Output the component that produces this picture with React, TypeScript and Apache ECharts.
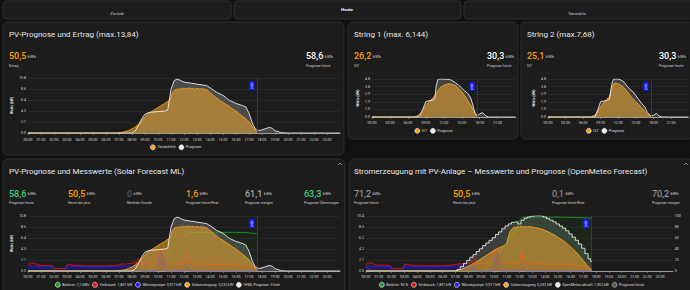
import React, { useEffect, useRef } from 'react';
import * as echarts from 'echarts';

const FONT = 'Roboto, "Noto Sans", sans-serif';
const JETZT = 17.65;

// y-axis tick labels
const ticksErtrag = ['0.0', '2.1', '4.3', '6.4', '8.6', '10.8'];
const ticksString = ['0.0', '1.0', '1.9', '2.9', '3.8', '4.8'];
const ticksMeteo = ['0.0', '2.1', '4.2', '6.2', '8.3', '10.4'];
const ticksPercent = ['0', '20', '40', '60', '80', '100'];

// [hour, kW]
const prognoseSfml: [number, number][] = [
  [0, 0], [8.0, 0], [8.25, 0.4], [8.5, 1.5], [8.75, 2.8], [9.0, 3.7], [9.25, 4.0], [9.5, 4.1], [10.0, 4.2],
  [10.5, 4.3], [10.75, 4.5], [11.0, 8.6], [11.25, 10.3], [11.5, 10.6], [11.75, 10.3], [12.0, 10.0], [12.5, 9.8],
  [13.0, 9.6], [13.5, 9.4], [13.75, 9.3], [14.0, 8.9], [14.5, 8.0], [15.0, 7.4], [15.5, 6.4], [16.0, 5.8],
  [16.5, 5.4], [16.75, 5.1], [17.0, 3.9], [17.25, 2.0], [17.5, 0.7], [17.75, 0.5], [18.0, 0.6], [18.25, 0.85],
  [18.6, 1.1], [18.8, 0.9], [19.0, 0.45], [19.5, 0.05], [20, 0], [24, 0],
];

const ertragIst: [number, number][] = [
  [0, 0], [6.75, 0], [7.0, 0.05], [7.25, 0.15], [7.5, 0.3], [7.75, 0.5], [8.0, 0.8], [8.25, 1.2], [8.5, 1.7],
  [8.75, 2.4], [9.0, 3.2], [9.25, 3.8], [9.5, 4.2], [9.75, 4.6], [10.0, 5.0], [10.25, 5.4], [10.5, 5.8],
  [10.75, 6.2], [10.9, 6.5], [11.0, 7.0], [11.1, 7.9], [11.25, 8.4], [11.4, 8.6], [11.5, 8.5], [11.6, 8.7],
  [11.75, 8.6], [11.9, 8.8], [12.0, 8.6], [12.1, 8.8], [12.25, 8.7], [12.4, 8.9], [12.5, 8.6], [12.6, 8.8],
  [12.75, 8.7], [12.9, 8.6], [13.0, 8.8], [13.1, 8.6], [13.25, 8.7], [13.4, 8.6], [13.5, 8.7], [13.6, 8.5],
  [13.75, 8.5], [13.9, 8.2], [14.0, 7.9], [14.25, 7.4], [14.5, 6.9], [14.75, 6.4], [15.0, 6.0], [15.25, 5.6],
  [15.5, 5.2], [15.75, 4.7], [16.0, 4.3], [16.25, 3.8], [16.5, 3.3], [16.75, 2.8], [17.0, 2.2], [17.25, 1.3],
  [17.5, 0.5], [17.65, 0.1],
];

const string1Prognose: [number, number][] = [
  [0, 0], [7.75, 0], [8.0, 0.2], [8.5, 1.0], [9.0, 1.95], [9.5, 2.05], [10.0, 2.1], [10.5, 2.3], [10.75, 4.0],
  [11.0, 4.7], [11.25, 4.8], [13.0, 4.75], [13.5, 4.55], [14.0, 4.3], [14.5, 4.0], [15.0, 3.65], [15.5, 3.3],
  [16.0, 3.0], [16.5, 2.4], [16.75, 1.8], [17.0, 1.1], [17.25, 0.45], [17.5, 0.25], [17.75, 0.25], [18.0, 0.4],
  [18.5, 0.55], [18.75, 0.35], [19.0, 0.15], [19.5, 0], [24, 0],
];

const string1Ist: [number, number][] = [
  [0, 0], [7.0, 0], [7.5, 0.1], [8.0, 0.35], [8.5, 0.8], [9.0, 1.4], [9.5, 1.9], [10.0, 2.3], [10.5, 2.7],
  [10.75, 2.9], [11.0, 3.3], [11.25, 3.6], [11.5, 3.8], [12.0, 4.0], [12.5, 4.15], [13.0, 4.2], [13.5, 4.1],
  [14.0, 3.95], [14.5, 3.6], [15.0, 3.2], [15.5, 2.7], [16.0, 2.1], [16.5, 1.5], [17.0, 0.8], [17.25, 0.4],
  [17.5, 0.15], [17.65, 0.05],
];

const string2Prognose: [number, number][] = [
  [0, 0], [8.0, 0], [8.5, 0.9], [9.0, 1.95], [9.5, 2.0], [10.0, 2.1], [10.5, 2.25], [10.75, 3.5], [11.0, 4.45],
  [11.25, 4.8], [12.0, 4.8], [12.5, 4.65], [13.0, 4.4], [13.5, 3.9], [14.0, 3.5], [14.5, 3.2], [15.0, 2.7],
  [15.5, 2.2], [16.0, 1.7], [16.5, 1.3], [17.0, 0.55], [17.5, 0.17], [18.0, 0.2], [18.5, 0.45], [18.75, 0.3],
  [19.0, 0.1], [19.5, 0], [24, 0],
];

const string2Ist: [number, number][] = [
  [0, 0], [7.25, 0], [7.5, 0.05], [8.0, 0.25], [8.5, 0.65], [9.0, 1.3], [9.5, 1.8], [10.0, 2.2], [10.5, 2.6],
  [10.75, 3.2], [11.0, 3.8], [11.25, 4.2], [11.5, 4.3], [12.0, 4.2], [12.5, 4.0], [13.0, 3.7], [13.5, 3.25],
  [14.0, 2.75], [14.5, 2.3], [15.0, 1.9], [15.5, 1.55], [16.0, 1.15], [16.5, 0.75], [17.0, 0.35], [17.5, 0.08],
  [17.65, 0.02],
];

const verbrauch: [number, number][] = [
  [0, 1.0], [0.1, 1.4], [0.3, 1.6], [0.5, 1.5], [0.7, 1.2], [1.0, 1.1], [1.5, 1.1], [1.9, 1.0], [2.0, 0.5],
  [2.5, 0.5], [2.9, 0.5], [3.0, 1.2], [3.2, 1.3], [3.5, 1.1], [4.0, 1.1], [4.5, 1.0], [5.0, 1.0], [5.5, 1.0],
  [6.0, 1.0], [6.5, 1.1], [7.0, 1.2], [7.3, 1.4], [7.5, 1.3], [7.8, 1.5], [8.0, 1.5], [8.2, 1.9], [8.3, 1.4],
  [8.5, 2.5], [8.6, 1.6], [8.75, 1.3], [9.0, 1.4], [9.25, 1.5], [9.5, 1.4], [9.75, 1.9], [10.0, 2.6], [10.1, 4.0],
  [10.25, 4.5], [10.4, 3.6], [10.5, 2.2], [10.75, 1.7], [11.0, 1.4], [11.25, 1.5], [11.5, 1.3], [11.75, 1.4],
  [12.0, 1.3], [12.1, 2.6], [12.2, 3.7], [12.3, 2.2], [12.4, 2.7], [12.5, 1.9], [12.75, 1.6], [13.0, 1.4],
  [13.25, 1.3], [13.5, 1.5], [14.0, 1.3], [14.5, 1.2], [15.0, 1.4], [15.5, 1.2], [16.0, 1.2], [16.5, 1.1],
  [17.0, 1.0], [17.3, 0.9], [17.5, 0.7], [17.65, 0.9],
];

const waermepumpe: [number, number][] = [
  [0, 0.5], [0.1, 0.9], [0.5, 0.9], [1.0, 0.8], [1.9, 0.8], [2.0, 0.1], [2.9, 0.1], [3.0, 0.9], [3.5, 0.9],
  [4.0, 0.8], [5.0, 0.8], [6.0, 0.8], [7.0, 0.9], [7.5, 1.0], [8.0, 0.9], [8.4, 0.9], [8.5, 0.1], [9.0, 0.0],
  [9.9, 0.0], [10.0, 1.5], [10.1, 3.2], [10.25, 3.5], [10.45, 3.0], [10.5, 0.3], [10.6, 0.0], [12.0, 0.0],
  [12.1, 0.6], [12.3, 0.8], [12.45, 0.6], [12.5, 0.0], [17.5, 0.0], [17.6, 0.5], [17.65, 0.9],
];

const batterieKwh: [number, number][] = [
  [0, 0], [9.25, 0], [10.0, 1.8], [11.0, 4.2], [12.0, 6.8], [12.25, 7.6], [15.0, 7.6], [16.0, 7.6],
  [17.0, 7.5], [17.65, 7.3],
];

const batterieProzent: [number, number][] = [
  [0, 8], [0.25, 3], [0.5, 0], [9.25, 0], [10.0, 22], [11.0, 52], [11.75, 76], [12.0, 92], [12.25, 98],
  [13.0, 98], [15.0, 98], [17.0, 97], [17.65, 96],
];

const solarMeteo: [number, number][] = [
  [0, 0], [6.9, 0], [7.25, 0.15], [7.5, 0.35], [7.75, 0.6], [8.0, 0.9], [8.25, 1.2], [8.5, 1.55], [8.75, 1.9],
  [9.0, 2.3], [9.25, 2.7], [9.5, 3.1], [9.75, 3.5], [10.0, 3.9], [10.25, 4.2], [10.5, 4.5], [10.75, 4.75],
  [11.0, 5.0], [11.1, 6.2], [11.25, 7.4], [11.4, 7.9], [11.5, 8.1], [11.6, 8.3], [11.75, 8.2], [11.9, 8.4],
  [12.0, 8.3], [12.15, 8.5], [12.3, 8.3], [12.5, 8.4], [12.65, 8.3], [12.8, 8.4], [13.0, 8.3], [13.25, 8.2],
  [13.5, 8.1], [13.75, 7.9], [14.0, 7.7], [14.25, 7.4], [14.5, 7.1], [14.75, 6.8], [15.0, 6.4], [15.25, 6.0],
  [15.5, 5.6], [15.75, 5.1], [16.0, 4.6], [16.25, 4.0], [16.5, 3.4], [16.75, 2.7], [17.0, 2.0], [17.25, 1.2],
  [17.5, 0.5], [17.65, 0.25],
];

const openMeteo: [number, number][] = [
  [0, 0], [7.0, 0], [7.25, 0.3], [7.5, 0.8], [7.75, 1.4], [8.0, 2.0], [8.25, 2.6], [8.5, 3.1], [8.75, 3.7],
  [9.0, 4.2], [9.25, 4.8], [9.5, 5.3], [9.75, 5.8], [10.0, 6.3], [10.25, 6.9], [10.5, 7.4], [10.75, 8.0],
  [11.0, 8.5], [11.25, 8.9], [11.5, 9.2], [11.75, 9.3], [12.0, 8.9], [12.25, 9.6], [12.5, 10.0], [12.75, 10.2],
  [13.0, 10.35], [13.25, 10.45], [13.5, 10.45], [13.75, 10.4], [14.0, 10.2], [14.25, 9.9], [14.5, 9.6],
  [14.75, 9.3], [15.0, 8.9], [15.25, 8.5], [15.5, 8.1], [15.75, 7.6], [16.0, 7.0], [16.25, 6.4], [16.5, 5.8],
  [16.75, 5.1], [17.0, 4.3], [17.25, 3.3], [17.5, 2.3], [17.65, 1.8],
];

const ORANGE = '#f5a21c';
const ORANGE_FILL = 'rgba(232,165,45,0.82)';
const WHITE = '#ececec';

const hourFmt = (v: number) => (v >= 24 ? '' : `${v < 10 ? '0' : ''}${v}:00`);

function xAx(gridIndex: number, interval: number, margin: number) {
  return {
    type: 'value', gridIndex, min: 0, max: 24, interval,
    axisLine: { show: true, lineStyle: { color: '#9a9a9a', width: 1 } },
    axisTick: { show: true, length: 2, lineStyle: { color: '#9a9a9a', width: 0.6 } },
    splitLine: { show: false },
    axisLabel: { fontSize: 3.6, color: '#d0d0d0', fontFamily: FONT, margin, showMaxLabel: false, formatter: hourFmt },
  };
}

function yAx(gridIndex: number, max: number, ticks: string[], name: string, nameGap: number, position = 'left') {
  const step = max / (ticks.length - 1);
  return {
    type: 'value', gridIndex, min: 0, max, interval: step, position,
    name, nameLocation: 'middle', nameGap, nameRotate: 90,
    nameTextStyle: { fontSize: 3.4, color: '#f0f0f0', fontWeight: 'bold', fontFamily: FONT },
    axisLine: { show: false }, axisTick: { show: false },
    splitLine: { show: position === 'left', lineStyle: { color: '#2e2e2e', width: 0.6 } },
    axisLabel: {
      fontSize: 3.6, color: '#d0d0d0', fontFamily: FONT, margin: 2,
      formatter: (v: number) => ticks[Math.round(v / step)] ?? '',
    },
  };
}

const jetztMark = {
  symbol: ['none', 'none'], silent: true,
  lineStyle: { color: '#2432c8', width: 0.8, type: 'solid' },
  label: {
    show: true, formatter: 'jetzt', position: 'insideEndTop', distance: 3,
    color: '#fff', fontSize: 3.2, fontFamily: FONT, backgroundColor: '#1414ff', padding: [1.2, 1.5],
  },
  data: [{ xAxis: JETZT }],
};

function area(data: [number, number][], xi: number, yi: number, fill: string, z: number) {
  return {
    type: 'line', data, xAxisIndex: xi, yAxisIndex: yi, symbol: 'none', silent: true, z,
    lineStyle: { width: 0 }, areaStyle: { color: fill, opacity: 1 },
  };
}

function line(name: string, data: [number, number][], xi: number, yi: number, color: string, z: number, extra: any = {}) {
  return {
    name, type: 'line', data, xAxisIndex: xi, yAxisIndex: yi, symbol: 'none', z,
    itemStyle: { color }, lineStyle: { color, width: 0.9 }, ...extra,
  };
}

function legend(left: number, top: number, data: any[]) {
  return {
    left, top, data, icon: 'circle', itemWidth: 5, itemHeight: 5, itemGap: 3, padding: 0, selectedMode: false,
    itemStyle: { borderColor: '#fff', borderWidth: 0.6 },
    textStyle: { color: '#dcdcdc', fontSize: 3.6, fontFamily: FONT, padding: [0, 0, 0, -3] },
  };
}

function card(x: number, y: number, w: number, h: number) {
  return { type: 'rect', z: -10, shape: { x, y, width: w, height: h, r: 5 }, style: { fill: '#1c1c1c', stroke: '#2c2c2c', lineWidth: 1 } };
}

function txt(x: number, y: number, text: string, size: number, fill: string, weight = 'normal', align = 'left') {
  return {
    type: 'text', z: 50, x, y,
    style: { text, fill, fontSize: size, fontWeight: weight, fontFamily: FONT, align, verticalAlign: 'middle' },
  };
}

function stat(x: number, y: number, value: string, color: string, label: string, weight = '500') {
  return [
    {
      type: 'text', z: 50, x, y,
      style: {
        text: `{v|${value}}{u|kWh}`, verticalAlign: 'middle',
        rich: {
          v: { fontSize: 9, fontWeight: weight, fill: color, fontFamily: FONT },
          u: { fontSize: 4.2, fill: '#cfcfcf', fontFamily: FONT, padding: [0, 0, 0, 1.5] },
        },
      },
    },
    txt(x, y + 9.5, label, 3.5, '#cfcfcf'),
  ];
}

function chevron(x: number, y: number) {
  return { type: 'polyline', z: 50, shape: { points: [[x - 2, y + 1.5], [x, y - 0.5], [x + 2, y + 1.5]] }, style: { stroke: '#9a9a9a', lineWidth: 0.8, fill: 'none' } };
}

function buildOption() {
  const graphic: any[] = [
    { type: 'rect', z: -20, shape: { x: 0, y: 0, width: 690, height: 290 }, style: { fill: '#111111' } },
    { type: 'rect', z: -10, shape: { x: 3, y: 1, width: 228, height: 18, r: 4 }, style: { fill: '#1c1c1c', stroke: '#2e2e2e' } },
    { type: 'rect', z: -10, shape: { x: 234, y: 1, width: 227, height: 18, r: 4 }, style: { fill: '#1c1c1c', stroke: '#2e2e2e' } },
    { type: 'rect', z: -10, shape: { x: 464, y: 1, width: 230, height: 18, r: 4 }, style: { fill: '#1c1c1c', stroke: '#2e2e2e' } },
    txt(117, 13, 'Zurück', 4.4, '#d6d6d6', 'normal', 'center'),
    txt(347, 9.3, 'Heute', 4.4, '#ffffff', 'bold', 'center'),
    txt(577, 13, 'Vorwärts', 4.4, '#d6d6d6', 'normal', 'center'),
    card(3, 22, 341, 133),
    card(348, 22, 170, 117),
    card(521, 22, 173, 117),
    card(3, 159, 342, 140),
    card(349, 159, 345, 140),
    chevron(340, 163.5),
    chevron(686, 163.5),
    txt(9, 34, 'PV-Prognose und Ertrag (max.13,84)', 8, '#e6e6e6'),
    ...stat(9, 56, '50,5', '#ffa000', 'Ertrag'),
    ...stat(306, 56, '58,6', '#ffffff', 'Prognose heute'),
    txt(354, 34, 'String 1 (max. 6,144)', 8, '#e6e6e6'),
    ...stat(354, 56, '26,2', '#ffa000', 'IST'),
    ...stat(487, 56, '30,3', '#ffffff', 'Prognose heute'),
    txt(527, 34, 'String 2 (max.7,68)', 8, '#e6e6e6'),
    ...stat(527, 56, '25,1', '#ffa000', 'IST'),
    ...stat(659, 56, '30,3', '#ffffff', 'Prognose heute'),
    txt(9, 171.5, 'PV-Prognose und Messwerte (Solar Forecast ML)', 8, '#e6e6e6'),
    ...stat(9, 193.7, '58,6', '#3ccf7a', 'Prognose heute'),
    ...stat(68, 193.7, '50,5', '#ffa000', 'Heute bis jetzt'),
    ...stat(127, 193.7, '0', '#4a5866', 'Nächste Stunde'),
    ...stat(186, 193.7, '1,6', '#f3941e', 'Prognose heute Rest'),
    ...stat(245, 193.7, '61,1', '#a8a8a8', 'Prognose morgen'),
    ...stat(304, 193.7, '63,3', '#3ccf7a', 'Prognose Übermorgen'),
    txt(354, 171.5, 'Stromerzeugung mit PV-Anlage – Messwerte und Prognose (OpenMeteo Forecast)', 8, '#e6e6e6'),
    ...stat(354, 193.7, '71,2', '#a8a8a8', 'Prognose heute', 'normal'),
    ...stat(453, 193.7, '50,5', '#ffa000', 'Heute bis jetzt'),
    ...stat(552, 193.7, '0,1', '#a0a0a0', 'Prognose heute Rest', 'normal'),
    ...stat(652, 193.7, '70,2', '#a8a8a8', 'Prognose morgen', 'normal'),
  ];

  return {
    animation: false,
    backgroundColor: '#111111',
    textStyle: { fontFamily: FONT },
    graphic,
    grid: [
      { left: 28, top: 78, width: 312, height: 55 },
      { left: 372, top: 79, width: 143.6, height: 38 },
      { left: 548, top: 79, width: 140.5, height: 38 },
      { left: 28, top: 216, width: 312, height: 55 },
      { left: 366, top: 216, width: 306.8, height: 55 },
    ],
    xAxis: [xAx(0, 1, 5), xAx(1, 3, 4), xAx(2, 3, 4), xAx(3, 1, 4), xAx(4, 1, 4)],
    yAxis: [
      yAx(0, 10.8, ticksErtrag, 'Watts (kW)', 15),
      yAx(1, 4.8, ticksString, 'Watts (kW)', 13),
      yAx(2, 4.8, ticksString, 'Watts (kW)', 13),
      yAx(3, 10.8, ticksErtrag, 'Watts (kW)', 15),
      yAx(4, 10.4, ticksMeteo, '', 0),
      yAx(4, 100, ticksPercent, '', 0, 'right'),
    ],
    legend: [
      legend(150, 144.5, ['Tatsächlich', 'Prognose']),
      legend(414.5, 128, ['IST', 'Prognose']),
      legend(586, 128, ['IST', 'Prognose']),
      legend(55, 282, ['Batterie: 7,2 kWh', 'Verbrauch: 1,831 kW', 'Wärmepumpe: 0,917 kW', 'Solarerzeugung: 0,232 kW', 'SFML Prognose: 0 kwh']),
      legend(379, 282, ['Batterie: 96 %', 'Verbrauch: 1,831 kW', 'Wärmepumpe: 0,917 kW', 'Solarerzeugung: 0,232 kW', 'OpenMeteo aktuell: 1,352 kW',
        { name: 'Prognose heute', itemStyle: { color: '#5a5a5a', borderColor: '#bdbdbd' } }]),
    ],
    series: [
      // PV-Prognose und Ertrag
      area(prognoseSfml, 0, 0, '#4b4b4b', 1),
      line('Tatsächlich', ertragIst, 0, 0, ORANGE, 2, { areaStyle: { color: ORANGE_FILL }, markLine: jetztMark }),
      line('Prognose', prognoseSfml, 0, 0, WHITE, 3),
      // String 1
      area(string1Prognose, 1, 1, '#444444', 1),
      line('IST', string1Ist, 1, 1, ORANGE, 2, { areaStyle: { color: ORANGE_FILL }, markLine: jetztMark }),
      line('Prognose', string1Prognose, 1, 1, WHITE, 3),
      // String 2
      area(string2Prognose, 2, 2, '#444444', 1),
      line('IST', string2Ist, 2, 2, ORANGE, 2, { areaStyle: { color: ORANGE_FILL }, markLine: jetztMark }),
      line('Prognose', string2Prognose, 2, 2, WHITE, 3),
      // Solar Forecast ML
      area(prognoseSfml, 3, 3, '#474747', 1),
      line('Batterie: 7,2 kWh', batterieKwh, 3, 3, '#1f9a2a', 2, { areaStyle: { color: 'rgba(30,120,30,0.16)' } }),
      line('Verbrauch: 1,831 kW', verbrauch, 3, 3, '#e01414', 3, { areaStyle: { color: 'rgba(90,20,60,0.35)' } }),
      line('Wärmepumpe: 0,917 kW', waermepumpe, 3, 3, '#1e1eff', 4, { areaStyle: { color: 'rgba(25,25,170,0.45)' } }),
      line('Solarerzeugung: 0,232 kW', ertragIst, 3, 3, ORANGE, 5, { areaStyle: { color: ORANGE_FILL }, markLine: jetztMark }),
      line('SFML Prognose: 0 kwh', prognoseSfml, 3, 3, WHITE, 6),
      // OpenMeteo
      line('Prognose heute', openMeteo, 4, 4, '#5a5a5a', 1, { lineStyle: { width: 0 }, areaStyle: { color: '#3a3f3c', opacity: 1 } }),
      line('Batterie: 96 %', batterieProzent, 4, 5, '#1f9a2a', 2, { areaStyle: { color: 'rgba(30,120,30,0.16)' } }),
      line('Verbrauch: 1,831 kW', verbrauch, 4, 4, '#e01414', 3, { areaStyle: { color: 'rgba(90,20,60,0.35)' } }),
      line('Wärmepumpe: 0,917 kW', waermepumpe, 4, 4, '#1e1eff', 4, { areaStyle: { color: 'rgba(25,25,170,0.45)' } }),
      line('Solarerzeugung: 0,232 kW', solarMeteo, 4, 4, ORANGE, 5, { areaStyle: { color: ORANGE_FILL }, markLine: jetztMark }),
      line('OpenMeteo aktuell: 1,352 kW', openMeteo, 4, 4, WHITE, 6, { step: 'middle' }),
    ],
  };
}

export default function App() {
  const ref = useRef<HTMLDivElement>(null);
  useEffect(() => {
    const chart = echarts.init(ref.current!, null, { renderer: 'svg' });
    chart.setOption(buildOption() as any);
    return () => chart.dispose();
  }, []);
  return <div ref={ref} style={{ position: 'absolute', left: 0, top: 0, width: 690, height: 290 }} />;
}
